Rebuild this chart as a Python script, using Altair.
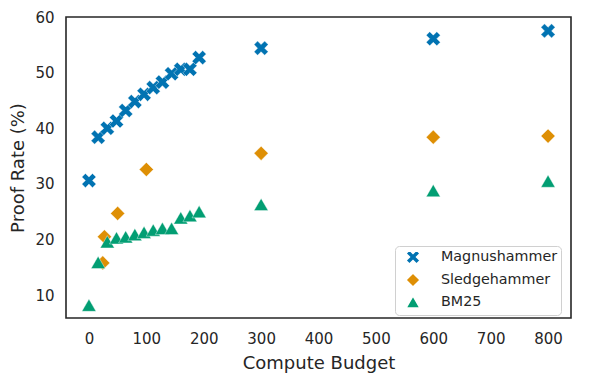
import altair as alt
import pandas as pd

# Data
mag_x = [0, 16, 32, 48, 64, 80, 96, 112, 128, 144, 160, 176, 192, 300, 600, 800]
mag_y = [30.6, 38.4, 40.0, 41.3, 43.2, 44.8, 46.1, 47.3, 48.3, 49.8, 50.6, 50.6, 52.7, 54.4, 56.1, 57.5]

sledge_x = [24, 27, 50, 100, 300, 600, 800]
sledge_y = [15.8, 20.5, 24.7, 32.6, 35.5, 38.4, 38.6]

bm25_x = [0, 16, 32, 48, 64, 80, 96, 112, 128, 144, 160, 176, 192, 300, 600, 800]
bm25_y = [8.2, 15.9, 19.6, 20.3, 20.5, 20.9, 21.3, 21.7, 22.0, 22.0, 23.9, 24.3, 25.0, 26.3, 28.8, 30.5]

methods = ["Magnushammer", "Sledgehammer", "BM25"]
colors = ["#0173b2", "#de8f05", "#029e73"]
x_path = ("M-1,-0.5 L-0.5,-1 L0,-0.5 L0.5,-1 L1,-0.5 L0.5,0 L1,0.5 L0.5,1 "
          "L0,0.5 L-0.5,1 L-1,0.5 L-0.5,0 Z")
shapes = [x_path, "diamond", "triangle-up"]

rows = []
for name, xs, ys in [("Magnushammer", mag_x, mag_y),
                     ("Sledgehammer", sledge_x, sledge_y),
                     ("BM25", bm25_x, bm25_y)]:
    for xv, yv in zip(xs, ys):
        rows.append({"Method": name, "x": xv, "y": yv})
df = pd.DataFrame(rows)

FONT = "DejaVu Sans"
TXT = "#262626"

chart = alt.Chart(df).mark_point(
    filled=True, opacity=1, size=200, stroke="white", strokeWidth=0.4
).encode(
    x=alt.X("x:Q", title="Compute Budget",
            scale=alt.Scale(domain=[-40, 840], nice=False, zero=False),
            axis=alt.Axis(values=[0, 100, 200, 300, 400, 500, 600, 700, 800],
                          labelFontSize=15, titleFontSize=18, labelPadding=13,
                          titlePadding=8)),
    y=alt.Y("y:Q", title="Proof Rate (%)",
            scale=alt.Scale(domain=[5.9, 60], nice=False, zero=False),
            axis=alt.Axis(values=[10, 20, 30, 40, 50, 60],
                          labelFontSize=15, titleFontSize=18, labelPadding=12,
                          titlePadding=7)),
    color=alt.Color("Method:N", sort=methods,
                    scale=alt.Scale(domain=methods, range=colors),
                    legend=alt.Legend(title=None, orient="none",
                                      legendX=329, legendY=229,
                                      labelFontSize=14.3, labelFont=FONT,
                                      labelColor=TXT,
                                      symbolSize=200, padding=3,
                                      symbolOffset=7, labelOffset=20,
                                      rowPadding=1,
                                      strokeColor="#d0d0d0", cornerRadius=4,
                                      fillColor="white")),
    shape=alt.Shape("Method:N", sort=methods,
                    scale=alt.Scale(domain=methods, range=shapes),
                    legend=None),
    order=alt.Order("ord:Q"),
).transform_calculate(
    ord="datum.Method == 'Magnushammer' ? 0 : (datum.Method == 'Sledgehammer' ? 1 : 2)"
).properties(
    width=505, height=301,
    autosize=alt.AutoSizeParams(type="none"),
    padding={"left": 58, "top": 9, "right": 13, "bottom": 57},
).configure_view(
    stroke=TXT, strokeWidth=1.6
).configure_axis(
    grid=False, ticks=False, domain=False,
    labelFont=FONT, titleFont=FONT, labelColor=TXT, titleColor=TXT,
    titleFontWeight="normal"
)

chart.save("out.html", embed_options={"renderer": "svg", "actions": False})
